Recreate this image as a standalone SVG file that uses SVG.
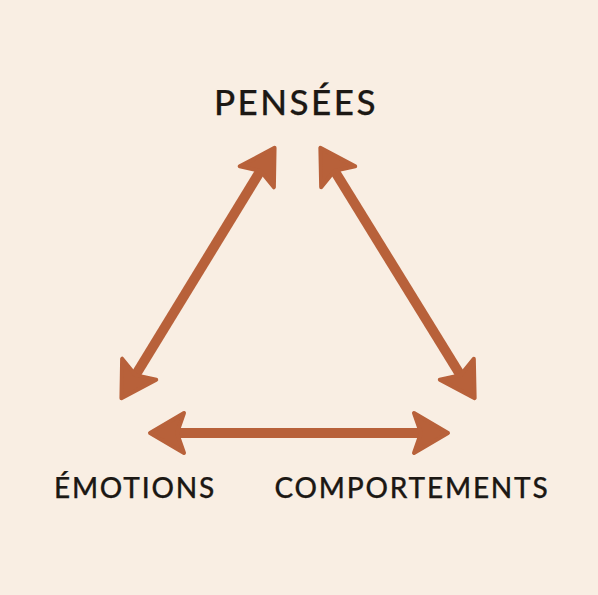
<svg xmlns="http://www.w3.org/2000/svg" width="598" height="595" viewBox="0 0 598 595">
<style>
.lbl{font-family:Lato,"Open Sans","Liberation Sans",sans-serif;font-weight:500;fill:#1c1814;stroke:#1c1814;stroke-width:0.25;text-anchor:middle}
.top{font-size:35px;letter-spacing:2.5px}
.bot{font-size:28px;letter-spacing:1.8px}
.shaft{stroke:#b8613a;stroke-width:10;fill:none}
</style>
<defs>
<marker id="ah" markerUnits="userSpaceOnUse" viewBox="-4 -26 42 52" markerWidth="42" markerHeight="52" refX="8" refY="0" orient="auto-start-reverse">
<path d="M34,0 L0,-20 L7,0 L0,20 Z" fill="#b8613a" stroke="#b8613a" stroke-width="4" stroke-linejoin="round"/>
</marker>
</defs>
<rect width="598" height="595" fill="#f9eee3"/>
<g id="connectors">
<line class="shaft" x1="261" y1="170" x2="135" y2="376" marker-start="url(#ah)" marker-end="url(#ah)"/>
<line class="shaft" x1="334" y1="170" x2="461" y2="376" marker-start="url(#ah)" marker-end="url(#ah)"/>
<line class="shaft" x1="176" y1="433" x2="422" y2="433" marker-start="url(#ah)" marker-end="url(#ah)"/>
</g>
<g id="pensees"><text class="lbl top" x="296" y="115">PENSÉES</text></g>
<g id="emotions"><text class="lbl bot" x="135" y="498">ÉMOTIONS</text></g>
<g id="comportements"><text class="lbl bot" x="412" y="498">COMPORTEMENTS</text></g>
</svg>
